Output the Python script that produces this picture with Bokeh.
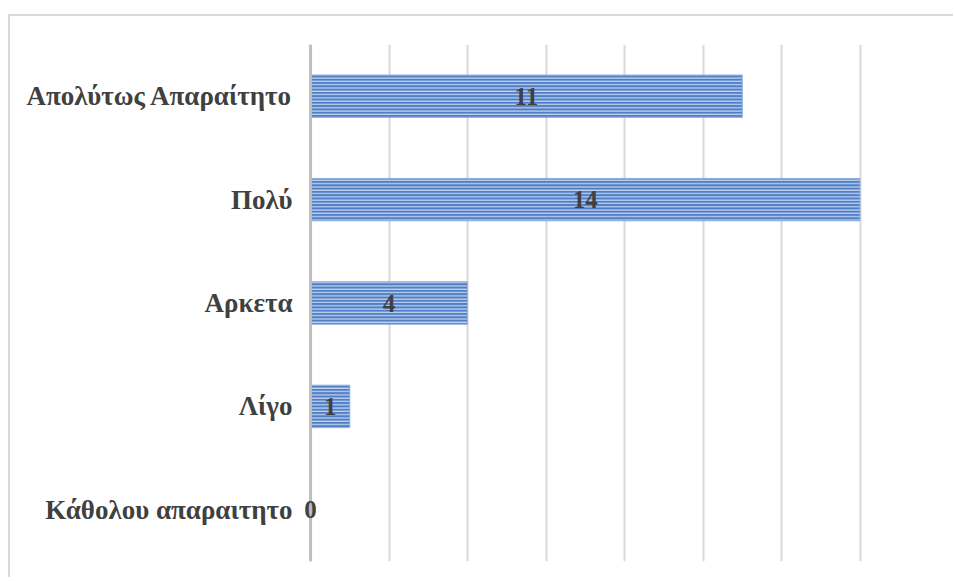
from bokeh.plotting import figure
from bokeh.models import ColumnDataSource, FactorRange, Range1d, FixedTicker, LabelSet, Span
from bokeh.embed import file_html
from bokeh.resources import INLINE

categories = ["Κάθολου απαραιτητο", "Λίγο", "Αρκετα", "Πολύ", "Απολύτως Απαραίτητο"]
counts = [0, 1, 4, 14, 11]
x_ticks = [0, 2, 4, 6, 8, 10, 12, 14, 16]

src = ColumnDataSource(dict(
    cat=categories,
    val=counts,
    mid=[v / 2 for v in counts],
    lab=[str(v) for v in counts],
))

p = figure(
    y_range=FactorRange(factors=categories, range_padding=0),
    x_range=Range1d(-0.46, 16),
    width=945, height=563,
    output_backend="svg", toolbar_location=None,
    min_border_left=282, min_border_right=17,
    min_border_top=28, min_border_bottom=18,
)
p.margin = (14, 0, 0, 8)
p.styles = {"border-top": "2px solid #d9d9d9", "border-left": "2px solid #d9d9d9"}
p.outline_line_color = None

p.hbar(y="cat", right="val", left=0, height=0.41, source=src,
       fill_color="#4f7ec6", line_color="#8fb0e0", line_width=1,
       hatch_pattern="horizontal_line", hatch_color="#c8d8f0",
       hatch_scale=3.3, hatch_weight=1.2)

p.xaxis.visible = False
p.xgrid.ticker = FixedTicker(ticks=x_ticks)
p.xgrid.grid_line_color = "#d9d9d9"
p.xgrid.grid_line_width = 2
p.ygrid.grid_line_color = None

p.add_layout(Span(location=0, dimension="height", line_color="#bfbfbf", line_width=3))

labels = LabelSet(x="mid", y="cat", text="lab", source=src,
                  text_align="center", text_baseline="middle",
                  text_font="Liberation Serif", text_font_style="bold",
                  text_font_size="25px", text_color="#404040")
p.add_layout(labels)

ax = p.yaxis[0]
ax.axis_line_color = None
ax.major_tick_line_color = None
ax.minor_tick_line_color = None
ax.major_tick_out = 0
ax.major_tick_in = 0
ax.major_label_text_font = "Liberation Serif"
ax.major_label_text_font_style = "bold"
ax.major_label_text_font_size = "27px"
ax.major_label_text_color = "#404040"
ax.major_label_standoff = 0

open("out.html", "w").write(file_html(p, INLINE))
